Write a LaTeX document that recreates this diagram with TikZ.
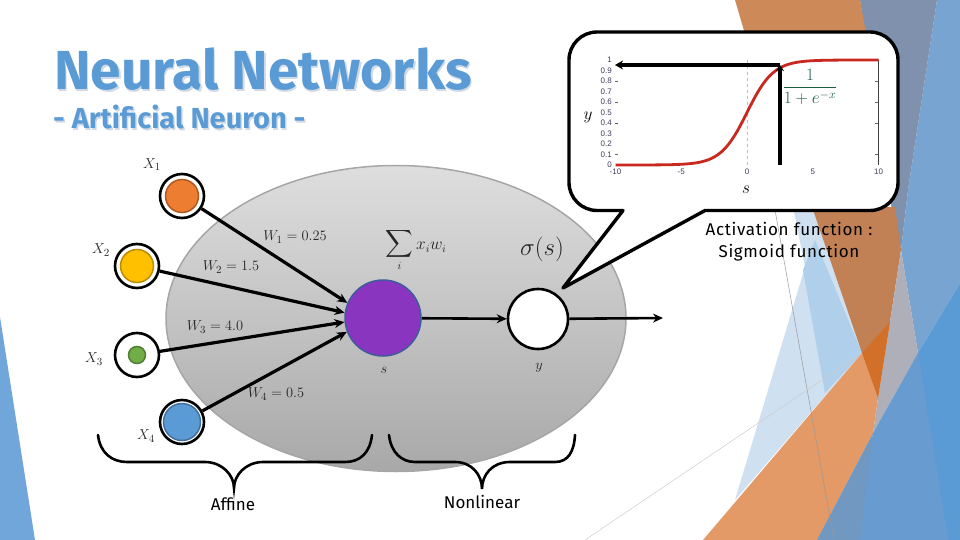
\documentclass[tikz,border=0pt]{standalone}
\usepackage{fontspec}
\usepackage{graphicx}
\usepackage{amsmath, amssymb}
\setmainfont{Fira Sans}
\newfontfamily\plotfont{Liberation Sans}
\definecolor{titleblue}{RGB}{91, 155, 213}
\definecolor{titleshade}{RGB}{208, 218, 230}
\definecolor{toporange}{RGB}{205, 138, 88}
\definecolor{bandorange}{RGB}{193, 129, 84}
\definecolor{lowerorange}{RGB}{228, 154, 102}
\definecolor{darkorange}{RGB}{210, 112, 42}
\definecolor{slate}{RGB}{127, 145, 172}
\definecolor{sideblue}{RGB}{120, 164, 210}
\definecolor{lowblue}{RGB}{91, 155, 213}
\definecolor{midblue}{RGB}{104, 156, 208}
\definecolor{sliceblue}{RGB}{112, 152, 192}
\definecolor{leftblue}{RGB}{113, 166, 218}
\definecolor{paleblue}{RGB}{207, 224, 241}
\definecolor{softblue}{RGB}{176, 207, 234}
\definecolor{greyband}{RGB}{174, 175, 184}
\definecolor{formulagreen}{RGB}{30, 95, 65}
\definecolor{ticktext}{RGB}{70, 60, 90}
\definecolor{curvered}{RGB}{200, 40, 30}
\definecolor{dotorange}{RGB}{237, 125, 49}
\definecolor{edgeorange}{RGB}{174, 90, 33}
\definecolor{dotyellow}{RGB}{255, 192, 0}
\definecolor{edgeyellow}{RGB}{188, 140, 0}
\definecolor{dotgreen}{RGB}{112, 173, 71}
\definecolor{edgegreen}{RGB}{80, 126, 50}
\definecolor{dotblue}{RGB}{91, 155, 213}
\definecolor{edgeblue}{RGB}{65, 113, 156}
\definecolor{sumpurple}{RGB}{138, 53, 192}
\definecolor{sumedge}{RGB}{63, 91, 156}
\usetikzlibrary{arrows.meta, positioning}
\newcommand{\shadedtext}[1]{\makebox[0pt][l]{\hspace{1.5pt}\raisebox{-1.5pt}{\textcolor{titleshade}{#1}}}#1}
\tikzset{
  inputring/.style={circle, draw=black, line width=2.6pt, fill=white, minimum size=44pt, inner sep=0pt},
  inputdot/.style={circle, line width=1.5pt, inner sep=0pt},
  wire/.style={draw=black, line width=3.2pt, -{Stealth[length=10pt,width=9pt]}},
  mathlabel/.style={font=\fontsize{15.5}{17}\selectfont, text=black!85, inner sep=0pt},
  bracepath/.style={draw=black, line width=2.6pt, line cap=round},
  ticklabel/.style={font=\plotfont\fontsize{8}{9}\selectfont, text=ticktext, inner sep=0pt},
  bodytext/.style={font=\fontsize{17}{22}\selectfont, text=black, inner sep=0pt}
}

\begin{document}
\begin{tikzpicture}[x=1pt, y=-1pt]
  \useasboundingbox (0,0) rectangle (960,540);

  % backdrop shapes
  \fill[sideblue] (937,0) -- (960,0) -- (960,283) -- (918,353) -- (901,250) -- (908,190) -- cycle;
  \fill[slate] (860,0) -- (937,0) -- (908,190) -- (901,250) -- (890,200) -- cycle;
  \fill[toporange] (735,0) -- (860,0) -- (866,34) -- (745,34) -- cycle;
  \fill[paleblue] (793,207) -- (812,207) -- (862,353) -- (735,500) -- (805,267) -- cycle;
  \fill[softblue] (815,240) -- (803,270) -- (825,393) -- (862,353) -- cycle;
  \fill[bandorange] (812,207) -- (895,207) -- (901,250) -- (890,322) -- (878,398) -- (862,353) -- cycle;
  \fill[greyband] (901,250) -- (918,353) -- (873,433) -- (878,398) -- (890,322) -- cycle;
  \fill[lowerorange] (703,540) -- (862,353) -- (878,398) -- (873,433) -- (817,540) -- cycle;
  \fill[darkorange] (862,353) -- (890,322) -- (878,398) -- cycle;
  \fill[lowblue] (960,283) -- (918,353) -- (817,540) -- (960,540) -- cycle;
  \fill[midblue] (873,433) -- (918,353) -- (948,540) -- (860,540) -- cycle;
  \fill[sliceblue] (873,433) -- (860,540) -- (817,540) -- cycle;
  \fill[leftblue] (0,317) -- (35,540) -- (0,540) -- cycle;
  \draw[black!40, line width=0.5pt] (775,210) -- (834,540);
  \draw[black!20, line width=0.5pt] (585,540) -- (862,353);

  % title
  \node[anchor=west, text=titleblue, inner sep=0pt, font=\bfseries\fontsize{55}{60}\selectfont] (title) at (54,70) {\shadedtext{Neural Networks}};
  \node[anchor=west, text=titleblue, inner sep=0pt, font=\bfseries\fontsize{29}{32}\selectfont] (subtitle) at (53,118) {\shadedtext{- Artificial Neuron -}};

  % neuron body
  \fill[top color=black!13, bottom color=black!34, draw=black!35, line width=1.5pt] (396,318.5) ellipse (230 and 153);

  % inputs
  \node[inputring] (x1) at (182,196) {};
  \node[inputring] (x2) at (137,266) {};
  \node[inputring] (x3) at (137,355) {};
  \node[inputring] (x4) at (182,422) {};
  \node[inputdot, minimum size=33pt, fill=dotorange, draw=edgeorange] (dot1) at (x1) {};
  \node[inputdot, minimum size=33pt, fill=dotyellow, draw=edgeyellow] (dot2) at (x2) {};
  \node[inputdot, minimum size=17pt, fill=dotgreen, draw=edgegreen] (dot3) at (x3) {};
  \node[inputdot, minimum size=37pt, fill=dotblue, draw=edgeblue] (dot4) at (x4) {};

  % sum and activation units
  \node[circle, minimum size=76pt, inner sep=0pt, line width=1.5pt, draw=sumedge, fill=sumpurple] (sum) at (383,318) {};
  \node[circle, minimum size=60pt, inner sep=0pt, line width=2.6pt, draw=black, fill=white] (act) at (538,319) {};
  \coordinate (out) at (663,318);

  % connectors
  \draw[wire] (x1) -- (sum.157);
  \draw[wire] (x2) -- (sum.172);
  \draw[wire] (x3) -- (sum.186);
  \draw[wire] (x4) -- (sum.201);
  \draw[wire, line width=2.6pt] (sum) -- (act);
  \draw[wire, line width=2.6pt] (act) -- (out);

  % labels
  \node[mathlabel] (lx1) at (152,165) {$X_1$};
  \node[mathlabel] (lx2) at (101,250) {$X_2$};
  \node[mathlabel] (lx3) at (94,359) {$X_3$};
  \node[mathlabel] (lx4) at (146,436) {$X_4$};
  \node[mathlabel] (w1) at (295,237) {$W_1=0.25$};
  \node[mathlabel] (w2) at (231,267) {$W_2=1.5$};
  \node[mathlabel] (w3) at (215,327) {$W_3=4.0$};
  \node[mathlabel] (w4) at (276,394) {$W_4=0.5$};
  \node[mathlabel, font=\fontsize{16}{18}\selectfont] (sumlabel) at (416,250) {$\displaystyle\mathop{\scalebox{1.2}{$\displaystyle\sum$}}\limits_i x_i w_i$};
  \node[mathlabel, font=\fontsize{25}{28}\selectfont] (sigma) at (542,249) {$\sigma(s)$};
  \node[mathlabel] (ls) at (384,370) {$s$};
  \node[mathlabel] (ly) at (539,368) {$y$};

  % callout
  \draw[fill=white, draw=black, line width=3.4pt, line join=round]
    (705,210.5) [rounded corners=28pt] -- (898,210.5) -- (898,32) -- (569,32) -- (569,210.5) [sharp corners]
    -- (623,210.5) -- (563,288) -- cycle;

  % sigmoid plot
  \draw[black!25, dashed, line width=0.4pt] (747,60) -- (747,165);
  \draw[black!75, line width=0.6pt] (878,60) -- (878,165);
  \foreach \tickval in {0.1,0.4,0.6,0.8} {
    \draw[black!60, line width=0.4pt] (615,165-105*\tickval) -- (618,165-105*\tickval);
    \draw[black!60, line width=0.4pt] (878,165-105*\tickval) -- (875,165-105*\tickval);
  }
  \foreach \tickval [count=\i] in {0,0.1,0.2,0.3,0.4,0.5,0.6,0.7,0.8,0.9,1} {
    \node[ticklabel, anchor=east] (ytick\i) at (612,165-105*\tickval) {\tickval};
  }
  \foreach \xval [count=\i] in {-10,-5,0,5,10} {
    \node[ticklabel] (xtick\i) at (747+13.15*\xval,172) {\xval};
  }
  \draw[curvered, line width=2.8pt, smooth, samples=60, domain=-10:10] plot ({747+13.15*\x}, {165-105/(1+exp(min(9,-\x)))});
  \node[inner sep=0pt, font=\fontsize{16}{18}\selectfont] (laby) at (588,117) {$y$};
  \node[inner sep=0pt, font=\fontsize{16}{18}\selectfont] (labs) at (746,190) {$s$};
  \coordinate (foot) at (780,165);
  \coordinate (knee) at (780,65);
  \coordinate (axisend) at (615,65);
  \draw[line width=3.2pt, -{Stealth[length=6pt,width=8pt]}] (foot) -- (knee);
  \draw[line width=3.2pt, -{Stealth[length=8pt,width=9pt]}] (knee) -- (axisend);
  \node[inner sep=0pt, text=formulagreen, font=\fontsize{18}{20}\selectfont] (formula) at (810,87) {$\dfrac{1}{1+e^{-x}}$};

  % captions
  \node[bodytext, align=center, font=\addfontfeature{LetterSpace=4}\fontsize{17}{22}\selectfont] (caption) at (789,242) {Activation function :\\Sigmoid function};
  \draw[bracepath] (98,435) .. controls (100,453) and (112,462) .. (127,462) -- (205,462)
    .. controls (222,462) and (234,475) .. (234,488) .. controls (234,475) and (246,462) .. (263,462)
    -- (345,462) .. controls (360,462) and (370,453) .. (372,435);
  \draw[bracepath] (389,435) .. controls (391,453) and (402,462) .. (415,462) -- (455,462)
    .. controls (472,462) and (482,475) .. (482,489) .. controls (482,475) and (492,462) .. (510,462)
    -- (555,462) .. controls (568,462) and (574,452) .. (575,435);
  \node[bodytext] (affine) at (233,504) {Affine};
  \node[bodytext] (nonlinear) at (482,502) {Nonlinear};
\end{tikzpicture}
\end{document}
